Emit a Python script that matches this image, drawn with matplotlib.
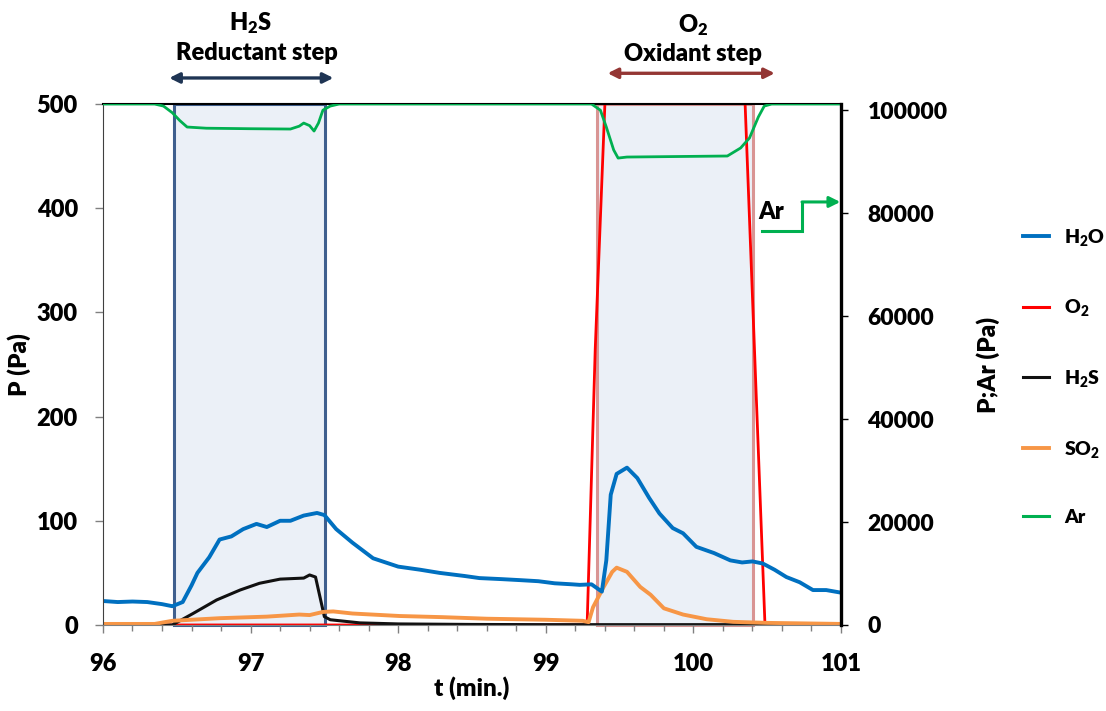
import matplotlib
matplotlib.use("Agg")
import matplotlib.pyplot as plt
from matplotlib.patches import Rectangle, FancyArrowPatch
from matplotlib.lines import Line2D

# ---- data (time in min, pressures in Pa) ----
t_h2o = [96.0, 96.1, 96.2, 96.3, 96.4, 96.47, 96.54, 96.6, 96.64, 96.72, 96.79, 96.87,
         96.95, 97.04, 97.11, 97.2, 97.27, 97.36, 97.45, 97.5, 97.58, 97.69, 97.83,
         98.0, 98.15, 98.28, 98.45, 98.55, 98.7, 98.83, 98.95, 99.06, 99.18, 99.23,
         99.31, 99.38, 99.41, 99.44, 99.48, 99.55, 99.62, 99.7, 99.77, 99.86, 99.93, 100.02,
         100.14, 100.25, 100.33, 100.4, 100.47, 100.55, 100.63, 100.72, 100.81,
         100.9, 101.0]
h2o = [23, 22, 22.5, 22, 20, 18, 22, 38, 50, 65, 82, 85,
       92, 97, 94, 100, 100, 105, 107.5, 105.5, 92, 79, 64,
       56, 53, 50, 47, 45, 44, 43, 42, 40, 39, 38.5,
       39, 32, 62, 125, 145, 151, 141, 122, 107, 93, 88, 75,
       69, 62, 60, 61, 59, 53, 46, 41, 33.5,
       33.5, 31]

t_h2s = [96.0, 96.47, 96.61, 96.77, 96.93, 97.06, 97.2, 97.36, 97.4, 97.44,
         97.47, 97.5, 97.54, 97.74, 98.0, 98.5, 99.0, 101.0]
h2s = [0, 0, 11, 24, 33.6, 40, 44, 45, 48, 46,
       27, 8, 5, 2, 1, 0.5, 0.3, 0.3]

t_so2 = [96.0, 96.35, 96.47, 96.6, 96.79, 97.11, 97.33, 97.4, 97.49, 97.56,
         97.69, 98.01, 98.3, 98.6, 99.0, 99.25, 99.29, 99.32, 99.39, 99.45, 99.48,
         99.55, 99.64, 99.71, 99.8, 99.93, 100.09, 100.27, 100.5, 101.0]
so2 = [1, 1, 4, 5, 6.5, 8, 10, 9.5, 12.5, 13,
       11, 8.6, 7.5, 6, 5, 4, 2.7, 17, 36, 51, 55,
       51, 36.5, 29, 16, 10, 5.5, 3, 2, 1]

t_o2 = [96.0, 99.28, 99.335, 99.406, 100.345, 100.485, 101.0]
o2 = [0, 0, 265, 520, 520, 0, 0]

t_ar = [96.0, 96.35, 96.41, 96.47, 96.52, 96.57, 96.7, 97.0, 97.27, 97.33,
        97.36, 97.4, 97.43, 97.46, 97.49, 97.54, 97.6, 99.28, 99.31, 99.37,
        99.41, 99.46, 99.49, 99.55, 100.23, 100.32, 100.38, 100.44, 100.48,
        100.53, 101.0]
ar = [101200, 101200, 100800, 99500, 98000, 96730, 96500, 96400, 96340, 96900,
      97500, 97000, 95950, 97500, 100000, 100800, 101200, 101200, 101200, 100000,
      96730, 92270, 90700, 90900, 91100, 92660, 94600, 98680, 100800,
      101200, 101200]

# process steps (start, end) in min
h2s_step = (96.48, 97.504)
o2_step = (99.347, 100.404)

x_ticks = [96, 97, 98, 99, 100, 101]
y_ticks = [0, 100, 200, 300, 400, 500]
y2_ticks = [0, 20000, 40000, 60000, 80000, 100000]

# ---- style ----
W = "heavy"
plt.rcParams["font.family"] = ["Lato", "DejaVu Sans"]
plt.rcParams["font.weight"] = W
plt.rcParams["mathtext.fontset"] = "custom"
plt.rcParams["mathtext.rm"] = "Lato:heavy"
plt.rcParams["mathtext.bf"] = "Lato:heavy"
plt.rcParams["mathtext.default"] = "bf"

C_H2O = "#0070C0"
C_O2 = "#FF0000"
C_H2S = "#111111"
C_SO2 = "#F79646"
C_AR = "#00B050"
GRID_GREY = "#808080"
BOLD = dict(fontweight=W)

fig = plt.figure(figsize=(11.06, 7.11), dpi=100)
ax = fig.add_axes([0.0931, 0.1210, 0.6673, 0.7327])
ax2 = ax.twinx()

# shaded step regions
fill_c = "#EBF0F7"
for (a, b), ec in [(h2s_step, "#3F5F8E"), (o2_step, "#D99594")]:
    ax.add_patch(Rectangle((a, 0), b - a, 500, facecolor=fill_c, edgecolor="none", zorder=0.5))
    ax.add_patch(Rectangle((a, 0), b - a, 500, facecolor="none", edgecolor=ec,
                           lw=2.2, zorder=1.5, clip_on=False))

ax.plot(t_o2, o2, color=C_O2, lw=2.0, zorder=2)
ax.plot(t_h2s, h2s, color=C_H2S, lw=2.2, zorder=2.1)
ax.plot(t_so2, so2, color=C_SO2, lw=2.8, zorder=2.2)
ax.plot(t_h2o, h2o, color=C_H2O, lw=2.8, zorder=2.3)
ax2.plot(t_ar, ar, color=C_AR, lw=2.0)

ax.set_xlim(96, 101)
ax.set_ylim(0, 500)
ax2.set_ylim(0, 101200)

ax.set_xticks(x_ticks)
ax.set_xticks([96 + 0.2 * i for i in range(26)], minor=True)
ax.set_yticks(y_ticks)
ax2.set_yticks(y2_ticks)

ax.tick_params(axis="x", which="major", length=6, width=1, color=GRID_GREY,
               labelsize=17, pad=14)
ax.tick_params(axis="x", which="minor", length=4, width=1, color=GRID_GREY)
ax.tick_params(axis="y", length=6, width=1, color=GRID_GREY, labelsize=17, pad=12)
ax2.tick_params(axis="y", length=5, width=1, color="black", labelsize=16.5, pad=14)

for lab in ax.get_xticklabels() + ax.get_yticklabels() + ax2.get_yticklabels():
    lab.set_fontweight(W)

ax.spines["left"].set_color("#404040")
ax.spines["bottom"].set_color(GRID_GREY)
ax.spines["top"].set_color("black")
ax.spines["top"].set_linewidth(1.5)
ax.spines["right"].set_visible(False)
ax2.spines["right"].set_color("black")
ax2.spines["right"].set_linewidth(2.4)
for s in ["left", "top", "bottom"]:
    ax2.spines[s].set_visible(False)

ax.set_xlabel("t (min.)", fontsize=17.5, **BOLD)
ax.set_ylabel("P (Pa)", fontsize=17.5, **BOLD)
ax2.set_ylabel("P;Ar (Pa)", fontsize=17.5, **BOLD)
ax.xaxis.set_label_coords(0.499, -0.098)
ax.yaxis.set_label_coords(-0.098, 0.5)
ax2.yaxis.set_label_coords(1.183, 0.5)

# step annotations above the plot
ax.text(97.0, 578, "H$_2$S", ha="center", va="center", fontsize=17, clip_on=False, **BOLD)
ax.text(97.04, 549, "Reductant step", ha="center", va="center", fontsize=17,
        clip_on=False, **BOLD)
ax.add_patch(FancyArrowPatch((96.43, 525), (97.58, 525), arrowstyle="<|-|>",
                             mutation_scale=15, color="#1F3554", lw=2.4, clip_on=False))
ax.text(100.0, 576, "O$_2$", ha="center", va="center", fontsize=17, clip_on=False, **BOLD)
ax.text(100.0, 548, "Oxidant step", ha="center", va="center", fontsize=17,
        clip_on=False, **BOLD)
ax.add_patch(FancyArrowPatch((99.40, 529.5), (100.57, 529.5), arrowstyle="<|-|>",
                             mutation_scale=15, color="#943634", lw=2.4, clip_on=False))

# Ar pointer towards the right axis
ax.text(100.53, 396, "Ar", ha="center", va="center", fontsize=17, **BOLD)
ax.plot([100.465, 100.736, 100.736], [378.1, 378.1, 406], color=C_AR, lw=2.2,
        solid_joinstyle="miter", zorder=3)
ax.add_patch(FancyArrowPatch((100.736, 406), (100.995, 406), arrowstyle="-|>",
                             mutation_scale=16, color=C_AR, lw=2.2, shrinkA=0,
                             shrinkB=0, zorder=3))

# legend
handles = [Line2D([], [], color=C_H2O, lw=2.8),
           Line2D([], [], color=C_O2, lw=2.2),
           Line2D([], [], color=C_H2S, lw=2.2),
           Line2D([], [], color=C_SO2, lw=2.8),
           Line2D([], [], color=C_AR, lw=2.2)]
labels = ["H$_2$O", "O$_2$", "H$_2$S", "SO$_2$", "Ar"]
fig.legend(handles, labels, loc="center left", bbox_to_anchor=(0.925, 0.4705),
           frameon=False, prop=dict(size=14, weight=W), handlelength=1.35,
           handletextpad=0.75, labelspacing=2.55, borderpad=0, borderaxespad=0)

fig.savefig("out.png", dpi=100)
